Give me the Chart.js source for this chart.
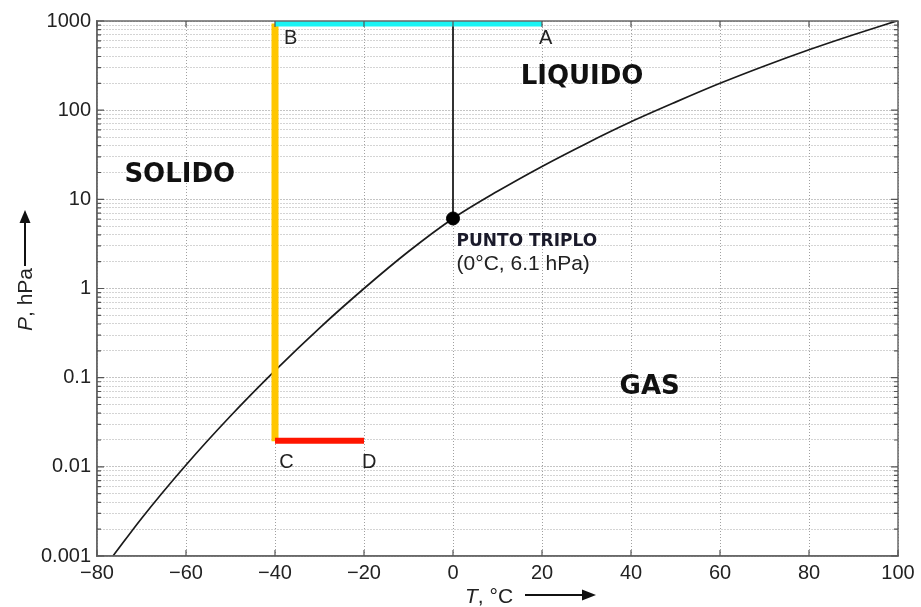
<!DOCTYPE html>
<html><head><meta charset="utf-8">
<script src="https://cdn.jsdelivr.net/npm/chart.js@4/dist/chart.umd.min.js"></script>
<style>html,body{margin:0;padding:0;background:#fff;overflow:hidden}</style>
</head><body>
<canvas id="c" width="921" height="607"></canvas>
<script>
// ---- data ----
const curveT = [-76.4, -70, -60, -50, -40, -30, -20, -10, 0, 10, 20, 30, 40, 50, 60, 70, 80, 90, 100];
const curveP = [0.001, 0.00264, 0.0105, 0.0372, 0.12, 0.36, 1.0, 2.6, 6.1, 12.3, 23.4, 42.4, 74, 123, 200, 313, 476, 702, 1013];
const lineAB_T = [20, -40];   const lineAB_P = [935, 935];
const lineBC_T = [-40, -40];  const lineBC_P = [935, 0.0193];
const lineCD_T = [-40, -20];  const lineCD_P = [0.0196, 0.0196];
const fusionT = [0, 0];       const fusionP = [6.1, 935];
const tripleT = [0];          const tripleP = [6.1];
const xTicks = [-80, -60, -40, -20, 0, 20, 40, 60, 80, 100];
const yDecades = [0.001, 0.01, 0.1, 1, 10, 100, 1000];
const yMinorSteps = [1, 2, 3, 4, 5, 6, 7, 8, 9];

const pts = (xs, ys) => xs.map((x, i) => ({x: x, y: ys[i]}));

// text annotations in data coordinates
const notes = [
  {text: 'B', x: -36.5, y: 635, font: '20px "Liberation Sans"', color: '#222', align: 'center'},
  {text: 'A', x: 20.8, y: 635, font: '20px "Liberation Sans"', color: '#222', align: 'center'},
  {text: 'C', x: -37.4, y: 0.0111, font: '20px "Liberation Sans"', color: '#222', align: 'center'},
  {text: 'D', x: -18.8, y: 0.0111, font: '20px "Liberation Sans"', color: '#222', align: 'center'},
  {text: 'LIQUIDO', x: 29.0, y: 232, font: 'bold 26px "DejaVu Sans"', color: '#111', align: 'center'},
  {text: 'SOLIDO', x: -61.4, y: 18.4, font: 'bold 26px "DejaVu Sans"', color: '#111', align: 'center'},
  {text: 'GAS', x: 44.2, y: 0.0773, font: 'bold 26px "DejaVu Sans"', color: '#111', align: 'center'},
  {text: 'PUNTO TRIPLO', x: 0.8, y: 3.33, font: 'bold 17px "DejaVu Sans"', color: '#1a1a2a', align: 'left'},
  {text: '(0°C, 6.1 hPa)', x: 0.8, y: 1.86, font: '21px "Liberation Sans"', color: '#222', align: 'left'}
];

const decorPlugin = {
  id: 'decor',
  afterDraw(chart) {
    const ctx = chart.ctx, a = chart.chartArea;
    const xs = chart.scales.x, ys = chart.scales.y;
    ctx.save();
    // frame
    ctx.strokeStyle = '#6a6a6a'; ctx.lineWidth = 1.5;
    ctx.strokeRect(a.left, a.top, a.right - a.left, a.bottom - a.top);
    // inward ticks
    ctx.strokeStyle = '#555'; ctx.lineWidth = 1.2;
    ctx.beginPath();
    xTicks.forEach(v => {
      const px = xs.getPixelForValue(v);
      ctx.moveTo(px, a.bottom); ctx.lineTo(px, a.bottom - 6);
      ctx.moveTo(px, a.top); ctx.lineTo(px, a.top + 6);
    });
    yDecades.forEach(d => {
      yMinorSteps.forEach(m => {
        const v = d * m;
        if (v > 1000) return;
        const py = ys.getPixelForValue(v);
        const len = m === 1 ? 7 : 4;
        ctx.moveTo(a.left, py); ctx.lineTo(a.left + len, py);
        ctx.moveTo(a.right, py); ctx.lineTo(a.right - len, py);
      });
    });
    ctx.stroke();

    // annotations
    ctx.textBaseline = 'middle';
    notes.forEach(n => {
      ctx.font = n.font; ctx.fillStyle = n.color; ctx.textAlign = n.align;
      ctx.fillText(n.text, xs.getPixelForValue(n.x), ys.getPixelForValue(n.y));
    });

    // x axis title: "T, °C" + arrow
    ctx.fillStyle = '#222'; ctx.textAlign = 'left'; ctx.textBaseline = 'alphabetic';
    let tx = 465; const ty = 603;
    ctx.font = 'italic 21px "Liberation Sans"';
    ctx.fillText('T', tx, ty); tx += ctx.measureText('T').width;
    ctx.font = '21px "Liberation Sans"';
    ctx.fillText(', °C', tx, ty);
    ctx.strokeStyle = '#111'; ctx.lineWidth = 2;
    ctx.beginPath(); ctx.moveTo(525, 595); ctx.lineTo(584, 595); ctx.stroke();
    ctx.fillStyle = '#111';
    ctx.beginPath(); ctx.moveTo(596, 595); ctx.lineTo(582, 589.5); ctx.lineTo(582, 600.5); ctx.closePath(); ctx.fill();

    // y axis title: "P, hPa" + arrow (rotated)
    ctx.translate(32, 331); ctx.rotate(-Math.PI / 2);
    ctx.fillStyle = '#222';
    let ux = 0;
    ctx.font = 'italic 21px "Liberation Sans"';
    ctx.fillText('P', ux, 0); ux += ctx.measureText('P').width;
    ctx.font = '21px "Liberation Sans"';
    ctx.fillText(', hPa', ux, 0); ux += ctx.measureText(', hPa').width;
    ctx.strokeStyle = '#111'; ctx.lineWidth = 2;
    ctx.beginPath(); ctx.moveTo(ux + 2, -7); ctx.lineTo(ux + 48, -7); ctx.stroke();
    ctx.fillStyle = '#111';
    ctx.beginPath(); ctx.moveTo(ux + 58, -7); ctx.lineTo(ux + 45, -12.5); ctx.lineTo(ux + 45, -1.5); ctx.closePath(); ctx.fill();
    ctx.restore();
  }
};

new Chart(document.getElementById('c'), {
  type: 'line',
  data: {
    datasets: [
      {label: 'punto triplo', data: pts(tripleT, tripleP), showLine: false, pointRadius: 6.5,
       pointBackgroundColor: '#000', pointBorderColor: '#000', order: 0},
      {label: 'A-B', data: pts(lineAB_T, lineAB_P), borderColor: '#1AF4F4', borderWidth: 6,
       pointRadius: 0, borderCapStyle: 'butt', order: 1},
      {label: 'C-D', data: pts(lineCD_T, lineCD_P), borderColor: '#FF1500', borderWidth: 6,
       pointRadius: 0, borderCapStyle: 'butt', order: 2},
      {label: 'B-C', data: pts(lineBC_T, lineBC_P), borderColor: '#FFC600', borderWidth: 7,
       pointRadius: 0, borderCapStyle: 'butt', order: 3},
      {label: 'fusione', data: pts(fusionT, fusionP), borderColor: '#333', borderWidth: 2,
       pointRadius: 0, order: 4},
      {label: 'curva', data: pts(curveT, curveP), borderColor: '#1a1a1a', borderWidth: 1.7,
       pointRadius: 0, cubicInterpolationMode: 'monotone', order: 5}
    ]
  },
  options: {
    responsive: false,
    devicePixelRatio: 1,
    animation: false,
    events: [],
    layout: {padding: {left: 0, right: 23, top: 21, bottom: 0}},
    plugins: {legend: {display: false}, tooltip: {enabled: false}},
    scales: {
      x: {
        type: 'linear', min: -80, max: 100,
        afterBuildTicks: s => { s.ticks = xTicks.map(v => ({value: v})); },
        afterFit: s => { s.height = 51; },
        ticks: {
          autoSkip: false, maxRotation: 0, padding: 5, color: '#222',
          font: {family: '"Liberation Sans"', size: 20},
          callback: v => (v < 0 ? '\u2212' + Math.abs(v) : String(v))
        },
        grid: {color: '#a0a0a0', lineWidth: 1, drawTicks: false},
        border: {display: true, color: '#6a6a6a', width: 1.5, dash: [1, 2]}
      },
      y: {
        type: 'logarithmic', min: 0.001, max: 1000,
        afterBuildTicks: s => {
          const t = [];
          yDecades.forEach(d => yMinorSteps.forEach(m => {
            const v = m === 1 ? d : d * m;
            if (v <= 1000) t.push({value: v});
          }));
          s.ticks = t;
        },
        afterFit: s => { s.width = 97; },
        ticks: {
          autoSkip: false, padding: 6, color: '#222',
          font: {family: '"Liberation Sans"', size: 20},
          callback: v => (yDecades.includes(v) ? String(v) : '')
        },
        grid: {
          color: c => (c.tick && yDecades.includes(c.tick.value) ? '#8a8a8a' : '#a8a8a8'),
          lineWidth: 1, drawTicks: false
        },
        border: {display: true, color: '#6a6a6a', width: 1.5, dash: [1, 2]}
      }
    }
  },
  plugins: [decorPlugin]
});
</script>
</body></html>
